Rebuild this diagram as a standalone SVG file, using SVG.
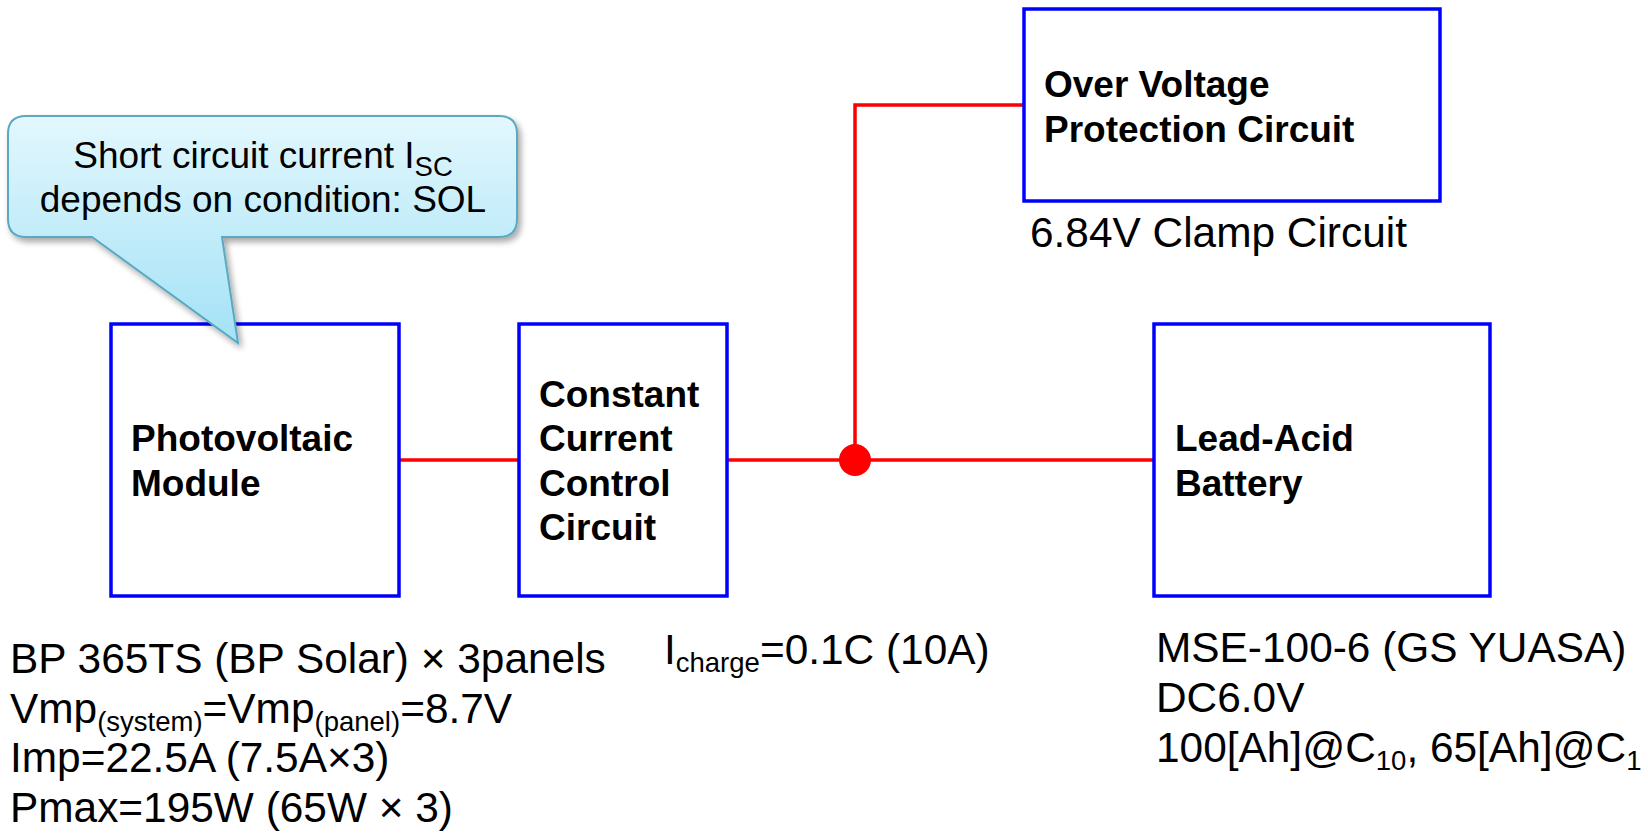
<svg xmlns="http://www.w3.org/2000/svg" width="1648" height="835" viewBox="0 0 1648 835">
<style>
.box{fill:#fff;stroke:#0000ff;stroke-width:3.5}
.wire{fill:none;stroke:#ff0000;stroke-width:3.5}
.bt{font-family:"Liberation Sans",Arial,sans-serif;font-weight:bold;font-size:37px;fill:#000}
.rt{font-family:"Liberation Sans",Arial,sans-serif;font-size:42.4px;fill:#000}
.ct{font-family:"Liberation Sans",Arial,sans-serif;font-size:37px;fill:#000}
.sub{font-size:27.5px}
</style>
<defs>
<linearGradient id="cg" x1="0" y1="0" x2="0" y2="1">
<stop offset="0" stop-color="#e3f7fd"/>
<stop offset="1" stop-color="#a3e2f6"/>
</linearGradient>
<filter id="sh" x="-10%" y="-10%" width="130%" height="130%">
<feGaussianBlur in="SourceAlpha" stdDeviation="3"/>
<feOffset dx="3" dy="4" result="o"/>
<feComponentTransfer><feFuncA type="linear" slope="0.35"/></feComponentTransfer>
<feMerge><feMergeNode/><feMergeNode in="SourceGraphic"/></feMerge>
</filter>
</defs>
<rect width="1648" height="835" fill="#fff"/>

<g id="connectors">
<line class="wire" x1="399" y1="460" x2="519" y2="460"/>
<line class="wire" x1="727" y1="460" x2="1154" y2="460"/>
<polyline class="wire" points="855,460 855,105 1024,105"/>
<circle cx="855" cy="460" r="16" fill="#ff0000"/>
</g>

<g id="pv">
<rect class="box" x="111" y="324" width="288" height="272"/>
<text class="bt" x="131" y="451">Photovoltaic</text>
<text class="bt" x="131" y="496">Module</text>
</g>

<g id="ccc">
<rect class="box" x="519" y="324" width="208" height="272"/>
<text class="bt" x="539" y="407">Constant</text>
<text class="bt" x="539" y="451">Current</text>
<text class="bt" x="539" y="496">Control</text>
<text class="bt" x="539" y="540">Circuit</text>
</g>

<g id="ovp">
<rect class="box" x="1024" y="9" width="416" height="192"/>
<text class="bt" x="1044" y="97">Over Voltage</text>
<text class="bt" x="1044" y="142">Protection Circuit</text>
</g>

<g id="battery">
<rect class="box" x="1154" y="324" width="336" height="272"/>
<text class="bt" x="1175" y="451">Lead-Acid</text>
<text class="bt" x="1175" y="496">Battery</text>
</g>

<g id="callout">
<path d="M26,116 H499 Q517,116 517,134 V219 Q517,237 499,237 H222 L238,343 L92,237 H26 Q8,237 8,219 V134 Q8,116 26,116 Z" fill="url(#cg)" stroke="#5aa8c2" stroke-width="2" filter="url(#sh)"/>
<text class="ct" x="263" y="168" text-anchor="middle">Short circuit current I<tspan class="sub" dy="8">SC</tspan></text>
<text class="ct" x="263" y="212" text-anchor="middle">depends on condition: SOL</text>
</g>

<g id="labels">
<text class="rt" x="1030" y="247">6.84V Clamp Circuit</text>
<text class="rt" x="10" y="673">BP 365TS (BP Solar) × 3panels</text>
<text class="rt" x="10" y="723">Vmp<tspan class="sub" dy="8">(system)</tspan><tspan dy="-8">=Vmp</tspan><tspan class="sub" dy="8">(panel)</tspan><tspan dy="-8">=8.7V</tspan></text>
<text class="rt" x="10" y="772">Imp=22.5A (7.5A×3)</text>
<text class="rt" x="10" y="822">Pmax=195W (65W × 3)</text>
<text class="rt" x="664" y="664">I<tspan class="sub" dy="8">charge</tspan><tspan dy="-8">=0.1C (10A)</tspan></text>
<text class="rt" x="1156" y="662">MSE-100-6 (GS YUASA)</text>
<text class="rt" x="1156" y="712">DC6.0V</text>
<text class="rt" x="1156" y="762">100[Ah]@C<tspan class="sub" dy="8">10</tspan><tspan dy="-8">, 65[Ah]@C</tspan><tspan class="sub" dy="8">1</tspan></text>
</g>
</svg>
